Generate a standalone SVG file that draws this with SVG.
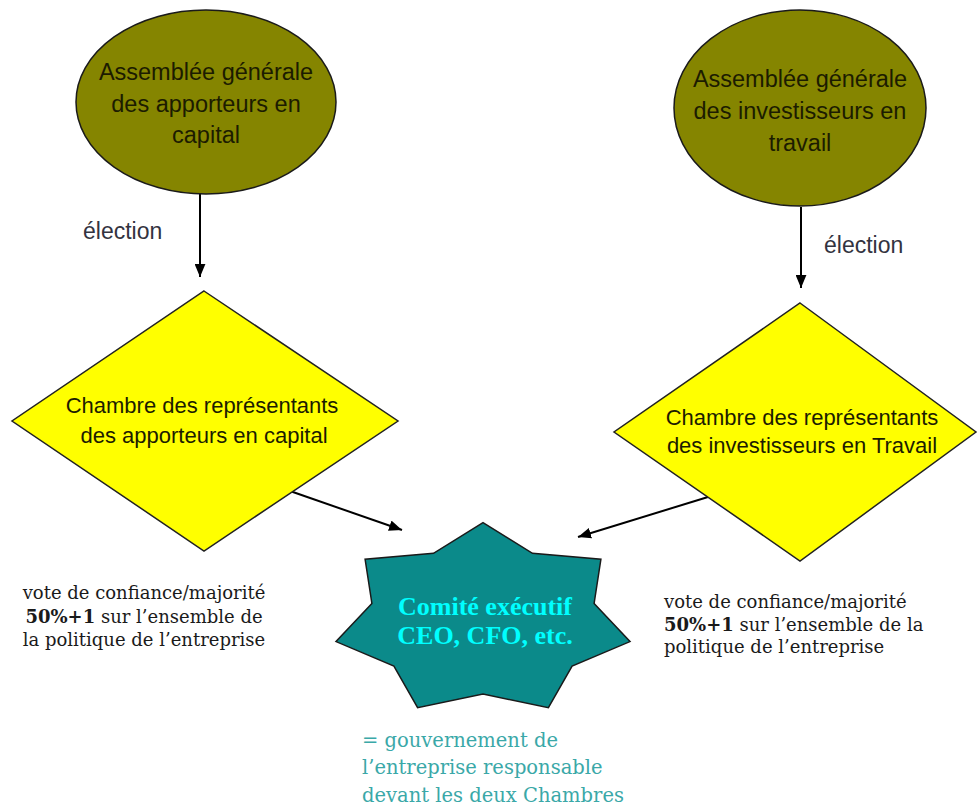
<svg xmlns="http://www.w3.org/2000/svg" width="979" height="807" viewBox="0 0 979 807">
<defs>
<marker id="ah" viewBox="0 0 12 10" refX="12" refY="5" markerWidth="13" markerHeight="11" markerUnits="userSpaceOnUse" orient="auto">
<path d="M0,0 L12,5 L0,10 z" fill="#000"/>
</marker>
</defs>
<style>
.ell{fill:#858500;stroke:#1a1a1a;stroke-width:1.5}
.dia{fill:#ffff00;stroke:#222;stroke-width:1.5}
.star{fill:#0b8a8a;stroke:#1a1a1a;stroke-width:1.5}
.t1{font-family:"Liberation Sans",Arial,sans-serif;font-size:23.5px;fill:#1c1c00;text-anchor:middle}
.t2{font-family:"Liberation Sans",Arial,sans-serif;font-size:22px;fill:#1c1c00;text-anchor:middle}
.el{font-family:"Liberation Sans",Arial,sans-serif;font-size:23px;fill:#333340}
.st{font-family:"Liberation Serif","Times New Roman",serif;font-weight:bold;font-size:26px;fill:#00ffff;text-anchor:middle}
.side{font-family:"DejaVu Serif",serif;font-size:18px;fill:#1a1a1a}
.bot{font-family:"DejaVu Serif",serif;font-size:19.5px;fill:#3aa8a8}
.conn{stroke:#000;stroke-width:2;fill:none;marker-end:url(#ah)}
</style>
<g id="connectors">
<line class="conn" x1="200" y1="193" x2="200" y2="277"/>
<line class="conn" x1="801" y1="207" x2="801" y2="288"/>
<line class="conn" x1="290" y1="491" x2="402" y2="530"/>
<line class="conn" x1="708" y1="497" x2="578" y2="537"/>
<text class="el" x="83" y="239">élection</text>
<text class="el" x="824" y="253">élection</text>
</g>
<g id="ag-capital">
<ellipse class="ell" cx="206" cy="102" rx="130" ry="92"/>
<text class="t1" x="206" y="80">Assemblée générale</text>
<text class="t1" x="206" y="112">des apporteurs en</text>
<text class="t1" x="206" y="143">capital</text>
</g>
<g id="ag-travail">
<ellipse class="ell" cx="800" cy="108" rx="126" ry="98"/>
<text class="t1" x="800" y="87">Assemblée générale</text>
<text class="t1" x="800" y="119">des investisseurs en</text>
<text class="t1" x="800" y="151">travail</text>
</g>
<g id="chambre-capital">
<polygon class="dia" points="204,291 398,421 204,551 12,421"/>
<text class="t2" x="202" y="413">Chambre des représentants</text>
<text class="t2" x="204" y="443">des apporteurs en capital</text>
</g>
<g id="chambre-travail">
<polygon class="dia" points="800,303 976,432 800,561 614,432"/>
<text class="t2" x="802" y="425">Chambre des représentants</text>
<text class="t2" x="802" y="453">des investisseurs en Travail</text>
</g>
<g id="comite">
<polygon class="star" points="483,522.7 532.5,553.3 600.9,559.3 594.1,603.5 630,641.6 572.1,666.1 548.4,707.7 483,694 417.6,707.7 393.9,666.1 336,641.6 371.9,603.5 365.1,559.3 433.5,553.3"/>
<text class="st" x="485" y="615">Comité exécutif</text>
<text class="st" x="485" y="644">CEO, CFO, etc.</text>
</g>
<g id="note-left">
<text class="side" x="144" y="599" text-anchor="middle">vote de confiance/majorité</text>
<text class="side" x="144" y="623" text-anchor="middle"><tspan font-weight="bold">50%+1</tspan> sur l’ensemble de</text>
<text class="side" x="144" y="646" text-anchor="middle">la politique de l’entreprise</text>
</g>
<g id="note-right">
<text class="side" x="664" y="608">vote de confiance/majorité</text>
<text class="side" x="664" y="631"><tspan font-weight="bold">50%+1</tspan> sur l’ensemble de la</text>
<text class="side" x="664" y="653">politique de l’entreprise</text>
</g>
<g id="note-bottom">
<text class="bot" x="362" y="747">= gouvernement de</text>
<text class="bot" x="362" y="774">l’entreprise responsable</text>
<text class="bot" x="362" y="802">devant les deux Chambres</text>
</g>
</svg>
